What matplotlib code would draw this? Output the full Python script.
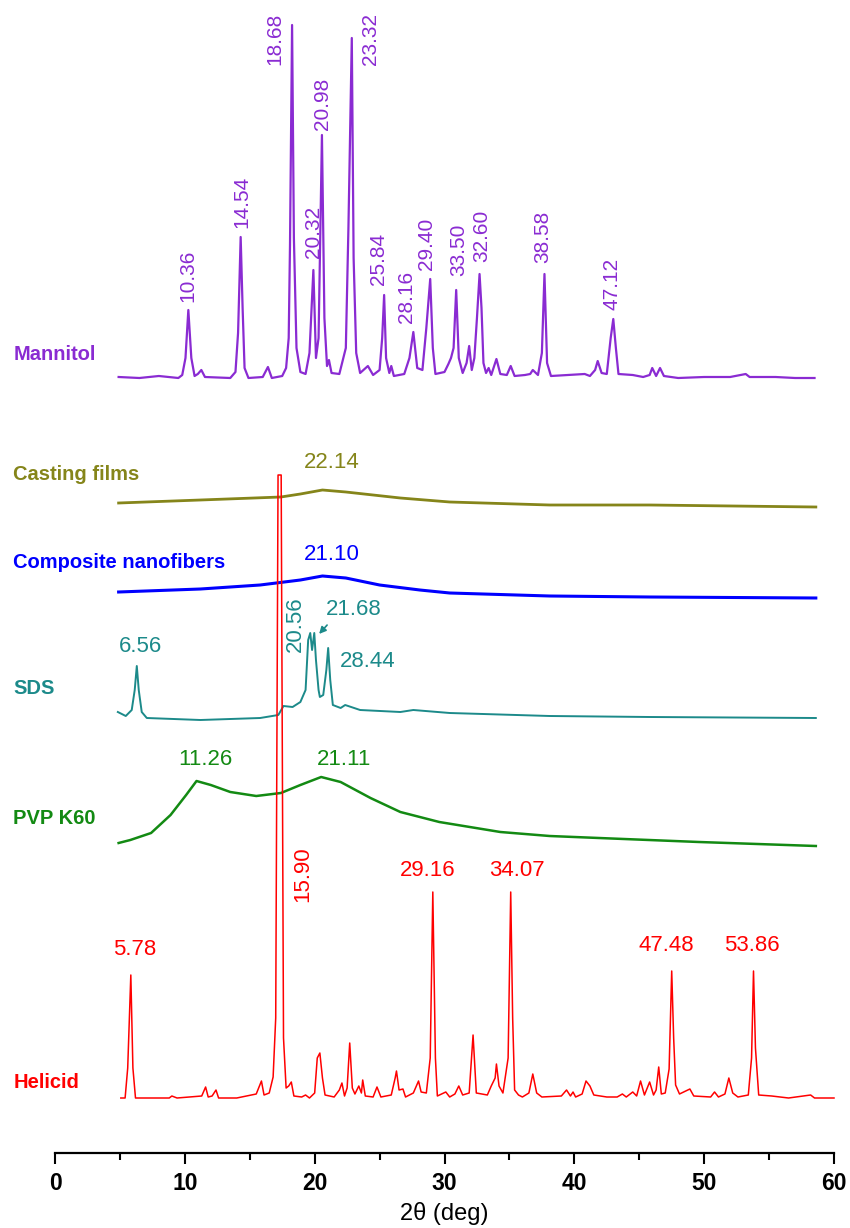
import matplotlib.pyplot as plt
from matplotlib.ticker import MultipleLocator

plt.rcParams['font.family'] = ['Liberation Sans', 'DejaVu Sans']

# traced patterns: 2theta (deg) and intensity above each trace's own baseline (a.u.)
mannitol_x = [4.9, 6.5, 8.0, 9.5, 9.8, 10.05, 10.27, 10.5, 10.75, 11.0, 11.27, 11.55, 13.5, 13.9, 14.1, 14.3,
              14.45, 14.6, 14.9, 16.0, 16.4, 16.7, 17.5, 17.8, 18.0, 18.1, 18.26, 18.4, 18.6, 18.9, 19.3, 19.6,
              19.9, 20.1, 20.3, 20.56, 20.75, 20.95, 21.1, 21.3, 21.9, 22.4, 22.6, 22.86, 23.0, 23.2, 23.5, 24.1,
              24.5, 25.0, 25.2, 25.35, 25.5, 25.75, 25.9, 26.1, 26.9, 27.3, 27.6, 27.9, 28.3, 28.6, 28.9, 29.1,
              29.3, 30.0, 30.3, 30.5, 30.7, 30.9, 31.1, 31.4, 31.7, 31.9, 32.1, 32.3, 32.5, 32.7, 32.85, 33.0,
              33.2, 33.4, 33.6, 34.0, 34.3, 34.8, 35.1, 35.4, 36.2, 36.6, 36.8, 37.2, 37.5, 37.7, 37.9, 38.2,
              39.5, 40.8, 41.2, 41.6, 41.8, 42.1, 42.5, 42.8, 43.0, 43.2, 43.4, 44.5, 45.3, 45.8, 46.0, 46.3,
              46.6, 46.9, 48.0, 50.0, 52.0, 53.2, 53.5, 55.5, 57.0, 58.5]
mannitol_y = [1, 0, 2, 0, 3, 20, 68, 20, 2, 4, 8, 1, 0, 6, 45, 141,
              70, 10, 0, 1, 11, 0, 2, 10, 40, 133, 353, 140, 30, 6, 4, 25,
              108, 20, 40, 243, 60, 12, 18, 5, 4, 30, 150, 340, 120, 25, 5, 12,
              3, 8, 40, 83, 20, 5, 12, 2, 4, 20, 46, 10, 8, 50, 99, 30,
              4, 6, 14, 20, 30, 88, 20, 5, 15, 32, 8, 20, 60, 104, 70, 15,
              5, 10, 3, 19, 4, 3, 12, 2, 3, 4, 8, 3, 25, 104, 15, 2,
              3, 4, 2, 8, 17, 5, 4, 40, 59, 30, 4, 3, 1, 3, 10, 2,
              10, 2, 0, 1, 1, 4, 1, 1, 0, 0]

casting_x = [4.9, 11.2, 17.4, 18.9, 20.6, 22.4, 26.6, 30.4, 38.1, 45.8, 58.6]
casting_y = [2, 5, 8, 11, 15, 13, 7, 3, 0, 0, -2]

composite_x = [4.9, 11.2, 15.8, 18.9, 20.6, 22.4, 25.0, 28.1, 30.4, 38.1, 45.8, 58.6]
composite_y = [4, 7, 11, 16, 20, 18, 11, 6, 3, 0, -1, -2]

sds_x = [4.84, 5.45, 5.91, 6.14, 6.30, 6.45, 6.68, 7.07, 11.2, 15.8, 17.2, 17.6, 18.3, 18.9, 19.3, 19.5,
         19.66, 19.8, 19.97, 20.1, 20.3, 20.4, 20.66, 20.9, 21.04, 21.2, 21.4, 22.0, 22.35, 23.5, 26.6, 27.6,
         30.4, 38.1, 45.8, 58.6]
sds_y = [4, 0, 6, 26, 50, 26, 4, -2, -4, -2, 1, 10, 9, 14, 26, 76,
         83, 66, 83, 56, 26, 19, 21, 46, 68, 36, 11, 8, 11, 6, 4, 6,
         3, 0, -1, -2]

pvp_x = [4.9, 5.8, 7.4, 8.9, 10.1, 10.9, 12.0, 13.5, 15.5, 17.4, 18.9, 20.5, 22.0, 24.3, 26.6, 29.6,
         34.3, 38.1, 41.9, 49.6, 58.6]
pvp_y = [5, 8, 15, 33, 53, 67, 63, 56, 52, 55, 63, 71, 66, 50, 36, 26,
         16, 12, 10, 6, 2]

helicid_x = [5.07, 5.4, 5.6, 5.84, 6.0, 6.2, 8.8, 9.0, 9.4, 11.3, 11.6, 11.8, 12.1, 12.4, 12.6, 14.0,
             15.5, 15.9, 16.1, 16.5, 16.8, 17.0, 17.18, 17.42, 17.6, 17.8, 18.0, 18.2, 18.4, 19.0, 19.3,
             19.6, 20.0, 20.2, 20.4, 20.6, 20.8, 21.5, 21.9, 22.1, 22.3, 22.5, 22.7, 22.9, 23.1, 23.4, 23.6,
             23.7, 23.9, 24.5, 24.8, 25.1, 25.9, 26.2, 26.3, 26.5, 26.8, 27.0, 27.6, 28.0, 28.2, 28.6, 28.9,
             29.1, 29.3, 29.45, 30.1, 30.4, 30.8, 31.1, 31.4, 31.9, 32.2, 32.45, 33.3, 33.6, 33.9, 34.0, 34.2,
             34.5, 34.9, 35.1, 35.25, 35.4, 35.7, 36.0, 36.5, 36.8, 37.1, 37.5, 39.0, 39.4, 39.7, 39.9, 40.1,
             40.6, 40.9, 41.2, 41.5, 42.5, 43.3, 43.7, 44.0, 44.5, 44.8, 45.1, 45.4, 45.8, 46.1, 46.3, 46.5,
             46.7, 47.0, 47.3, 47.5, 47.65, 47.8, 48.1, 48.9, 49.2, 50.5, 50.8, 51.1, 51.6, 51.9, 52.2, 52.6,
             53.4, 53.65, 53.8, 53.95, 54.2, 55.2, 56.5, 58.2, 58.5, 60.0]
helicid_y = [0, 0, 30, 123, 30, 0, 0, 2, 0, 2, 11, 1, 2, 8, 0, 0,
             4, 17, 3, 5, 21, 80, 623, 623, 60, 10, 12, 16, 2, 1, 3,
             0, 5, 40, 45, 20, 3, 1, 8, 15, 2, 10, 55, 10, 4, 12, 5,
             18, 2, 1, 11, 1, 3, 20, 27, 8, 9, 1, 5, 17, 6, 5, 40,
             206, 40, 2, 6, 1, 4, 12, 3, 5, 63, 5, 3, 12, 20, 34, 12,
             5, 40, 206, 80, 8, 3, 1, 5, 24, 5, 1, 2, 8, 2, 6, 1,
             4, 17, 12, 3, 1, 1, 4, 1, 6, 2, 17, 3, 16, 3, 8, 31,
             4, 5, 29, 127, 60, 13, 4, 9, 2, 1, 6, 1, 4, 20, 5, 1,
             3, 40, 127, 50, 3, 2, 0, 3, 0, 0]

# peak labels: text, 2theta position, height above baseline
mannitol_labels = ['10.36', '14.54', '18.68', '20.32', '20.98', '23.32', '25.84',
                   '28.16', '29.40', '33.50', '32.60', '38.58', '47.12']
mannitol_lx = [10.2, 14.4, 16.9, 19.9, 20.6, 24.3, 24.9, 27.1, 28.6, 31.1, 32.9, 37.6, 42.9]
mannitol_ly = [76, 150, 313, 120, 248, 313, 93, 55, 108, 102, 116, 115, 68]

helicid_labels = ['5.78', '29.16', '34.07', '47.48', '53.86']
helicid_lx = [6.1, 28.7, 35.6, 47.1, 53.7]
helicid_ly = [138, 217, 217, 142, 142]

pvp_labels = ['11.26', '21.11']
pvp_lx = [11.6, 22.3]
pvp_ly = [78, 78]

names = ['Mannitol', 'Casting films', 'Composite nanofibers', 'SDS', 'PVP K60', 'Helicid']
colors = ['#8a2bd2', '#85851a', '#0000ff', '#1c8a8a', '#138a13', '#ff0000']
offsets = [775, 648, 557, 437, 305, 55]
name_y = [798, 679, 591, 464, 335, 71]

fig = plt.figure(figsize=(8.5, 12.28), dpi=100)
ax = fig.add_axes([55 / 850, 75 / 1228, 779 / 850, 1153 / 1228])

series = [(mannitol_x, mannitol_y), (casting_x, casting_y), (composite_x, composite_y),
          (sds_x, sds_y), (pvp_x, pvp_y), (helicid_x, helicid_y)]
widths = [1.6, 2.0, 2.2, 1.4, 1.8, 1.1]
for (xs, ys), c, off, lw in zip(series, colors, offsets, widths):
    ax.plot(xs, [v + off for v in ys], color=c, lw=lw, clip_on=False)

for name, c, yy in zip(names, colors, name_y):
    ax.text(-3.2, yy, name, color=c, fontsize=14.5, fontweight='bold', ha='left', va='center', clip_on=False)

for t, x, h in zip(mannitol_labels, mannitol_lx, mannitol_ly):
    ax.text(x, offsets[0] + h, t, color=colors[0], fontsize=15, rotation=90, ha='center', va='bottom', clip_on=False)

ax.text(21.35, offsets[1] + 32, '22.14', color=colors[1], fontsize=16, ha='center', va='bottom')
ax.text(21.3, offsets[2] + 31, '21.10', color=colors[2], fontsize=16, ha='center', va='bottom')

ax.text(6.6, offsets[3] + 59, '6.56', color=colors[3], fontsize=16, ha='center', va='bottom')
ax.text(18.5, offsets[3] + 64, '20.56', color=colors[3], fontsize=16, rotation=90, ha='center', va='bottom')
ax.text(23.0, offsets[3] + 96, '21.68', color=colors[3], fontsize=16, ha='center', va='bottom')
ax.text(24.1, offsets[3] + 44, '28.44', color=colors[3], fontsize=16, ha='center', va='bottom')
ax.annotate('', xy=(20.2, offsets[3] + 80), xytext=(21.1, offsets[3] + 93),
            arrowprops=dict(arrowstyle='-|>', color=colors[3], lw=1.2, mutation_scale=10))

for t, x, h in zip(pvp_labels, pvp_lx, pvp_ly):
    ax.text(x, offsets[4] + h, t, color=colors[4], fontsize=16, ha='center', va='bottom')

for t, x, h in zip(helicid_labels, helicid_lx, helicid_ly):
    ax.text(x, offsets[5] + h, t, color=colors[5], fontsize=16, ha='center', va='bottom')
ax.text(19.1, offsets[5] + 196, '15.90', color=colors[5], fontsize=16, rotation=90, ha='center', va='bottom')

ax.set_xlim(0, 60)
ax.set_ylim(0, 1153)
ax.set_yticks([])
for s in ['left', 'top', 'right']:
    ax.spines[s].set_visible(False)
ax.spines['bottom'].set_linewidth(1.6)
ax.xaxis.set_major_locator(MultipleLocator(10))
ax.xaxis.set_minor_locator(MultipleLocator(5))
ax.tick_params(axis='x', which='major', length=8, width=1.5, labelsize=16.5, pad=6)
ax.tick_params(axis='x', which='minor', length=5, width=1.5)
for lab in ax.get_xticklabels():
    lab.set_fontweight('bold')
ax.set_xlabel('2θ (deg)', fontsize=17, labelpad=5)

fig.savefig('out.png', dpi=100)
